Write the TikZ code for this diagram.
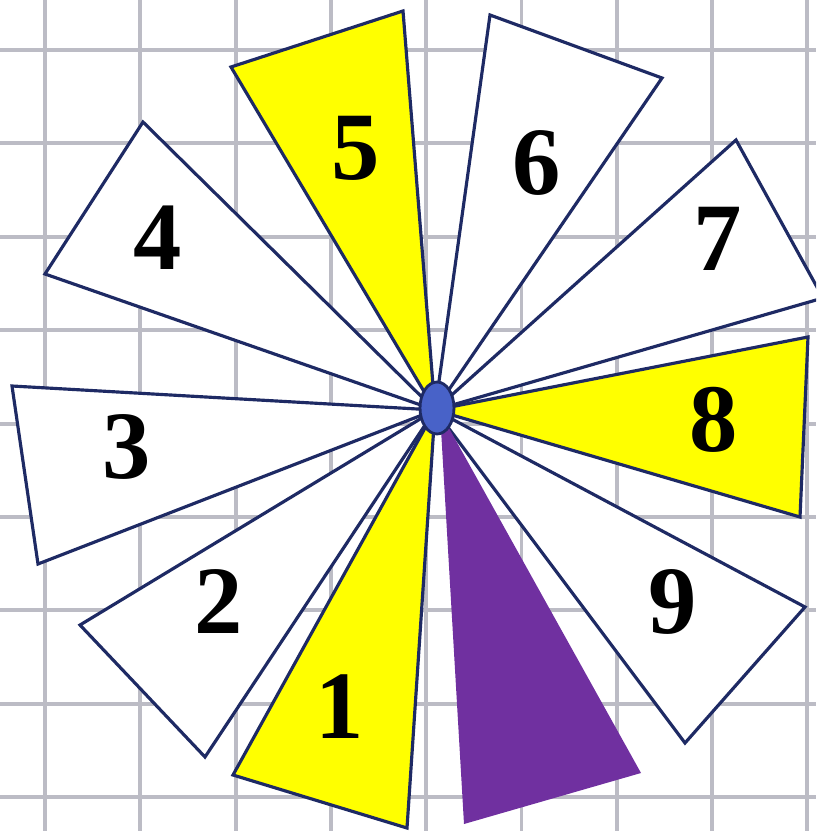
\documentclass[tikz,border=0pt]{standalone}
\usepackage{fontspec}
\setmainfont{Liberation Serif}

\definecolor{gridgray}{RGB}{188,188,197}
\definecolor{edgenavy}{RGB}{30,42,100}
\definecolor{hubblue}{RGB}{72,98,200}
\definecolor{piecepurple}{RGB}{112,48,160}
\definecolor{pieceyellow}{RGB}{255,255,0}

\tikzset{
  gridline/.style={gridgray, line width=2.2pt},
  piece/.style={draw=edgenavy, line width=1.8pt, line join=miter},
  num/.style={font=\fontsize{55}{60}\selectfont\bfseries, inner sep=0pt}
}

\begin{document}
\begin{tikzpicture}[x=0.02cm,y=-0.02cm]
  \useasboundingbox (0,0) rectangle (816,831);
  \clip (0,0) rectangle (816,831);

  % Grid paper
  \foreach \k in {0,...,8}
    \draw[gridline] ({45+95.3*\k},0) -- ++(0,831);
  \foreach \k in {0,...,8}
    \draw[gridline] (0,{50+93.4*\k}) -- ++(816,0);

  % Common apex
  \coordinate (c) at (435,410);

  % Triangles round the apex
  \foreach \ax/\ay/\bx/\by/\col in {233/775/407/828/pieceyellow,
      80/625/205/757/white, 12/386/38/564/white, 45/274/143/122/white,
      231/67/403/11/pieceyellow, 490/15/662/78/white,
      736/140/823/298/white, 808/337/800/517/pieceyellow,
      805/607/685/743/white}
    \filldraw[piece, fill=\col] (c) -- (\ax,\ay) -- (\bx,\by) -- cycle;

  % The missing piece
  \fill[piecepurple] (440,412) -- (641,773) -- (464,824) -- cycle;

  % Hub
  \filldraw[fill=hubblue, draw=edgenavy, line width=1.6pt]
    (437,408) ellipse [x radius=0.34cm, y radius=0.52cm];

  % Numbers
  \node[num] (n1) at (340,707) {1};
  \node[num] (n2) at (219,602) {2};
  \node[num] (n3) at (127,447) {3};
  \node[num] (n4) at (158,238) {4};
  \node[num] (n5) at (356,148) {5};
  \node[num] (n6) at (537,163) {6};
  \node[num] (n7) at (718,239) {7};
  \node[num] (n8) at (714,420) {8};
  \node[num] (n9) at (673,602) {9};
\end{tikzpicture}
\end{document}
